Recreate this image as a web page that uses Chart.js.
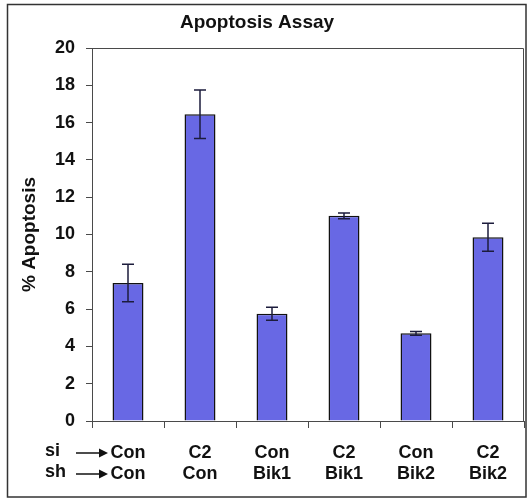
<!DOCTYPE html>
<html>
<head>
<meta charset="utf-8">
<script src="https://cdn.jsdelivr.net/npm/chart.js@4.4.1/dist/chart.umd.min.js"></script>
<style>
  html, body { margin: 0; padding: 0; background: #ffffff; }
  #wrap { width: 527px; height: 501px; }
</style>
</head>
<body>
<div id="wrap"><canvas id="c" width="527" height="501"></canvas></div>
<script>
// siRNA and shRNA treatment per group (two label rows under the axis)
const siLabels = ['Con', 'C2', 'Con', 'C2', 'Con', 'C2'];
const shLabels = ['Con', 'Con', 'Bik1', 'Bik1', 'Bik2', 'Bik2'];
// mean % apoptosis and its error
const apoptosisPct = [7.4, 16.45, 5.75, 11.0, 4.7, 9.85];
const apoptosisErr = [1.0, 1.3, 0.35, 0.15, 0.1, 0.75];
// y axis range
const yMin = 0, yMax = 20, yStep = 2;

const FONT = '"Liberation Sans", Arial, sans-serif';
const AXIS_COLOR = '#4a4a4a';

// error bars drawn over each bar
const errorBars = {
  id: 'errorBars',
  afterDatasetsDraw(chart) {
    const ctx = chart.ctx;
    const y = chart.scales.y;
    const meta = chart.getDatasetMeta(0);
    ctx.save();
    ctx.strokeStyle = '#1c1c3c';
    ctx.lineWidth = 1.5;
    meta.data.forEach((bar, i) => {
      const v = apoptosisPct[i], e = apoptosisErr[i];
      const x = bar.x;
      const yt = y.getPixelForValue(v + e);
      const yb = y.getPixelForValue(v - e);
      ctx.beginPath();
      ctx.moveTo(x, yt); ctx.lineTo(x, yb);
      ctx.moveTo(x - 6, yt); ctx.lineTo(x + 6, yt);
      ctx.moveTo(x - 6, yb); ctx.lineTo(x + 6, yb);
      ctx.stroke();
    });
    ctx.restore();
  }
};

// title, plot frame, outer frame and the si/sh row markers
const decorations = {
  id: 'decorations',
  afterDraw(chart) {
    const ctx = chart.ctx;
    const a = chart.chartArea;
    ctx.save();
    // plot area top/right border
    ctx.strokeStyle = AXIS_COLOR;
    ctx.lineWidth = 1;
    ctx.beginPath();
    ctx.moveTo(a.left, a.top + 0.5);
    ctx.lineTo(a.right - 0.5, a.top + 0.5);
    ctx.lineTo(a.right - 0.5, a.bottom);
    ctx.stroke();
    // outer frame
    ctx.strokeStyle = '#333333';
    ctx.lineWidth = 1.5;
    ctx.strokeRect(7.5, 4.5, 518.5, 492.5);
    // title
    ctx.fillStyle = '#111111';
    ctx.font = 'bold 19px ' + FONT;
    ctx.textAlign = 'center';
    ctx.textBaseline = 'middle';
    ctx.fillText('Apoptosis Assay', 257, 23);
    // row markers
    ctx.font = 'bold 18px ' + FONT;
    ctx.textAlign = 'left';
    const rows = [['si', a.bottom + 32], ['sh', a.bottom + 53]];
    rows.forEach(([txt, ry]) => {
      ctx.fillText(txt, 45, ry - 2);
      ctx.strokeStyle = '#111111';
      ctx.lineWidth = 1.5;
      ctx.beginPath();
      ctx.moveTo(76, ry); ctx.lineTo(100, ry);
      ctx.stroke();
      ctx.beginPath();
      ctx.moveTo(108, ry); ctx.lineTo(99, ry - 4.5); ctx.lineTo(99, ry + 4.5);
      ctx.closePath();
      ctx.fill();
    });
    ctx.restore();
  }
};

new Chart(document.getElementById('c'), {
  type: 'bar',
  data: {
    labels: siLabels.map((s, i) => [s, shLabels[i]]),
    datasets: [{
      data: apoptosisPct,
      backgroundColor: '#6868e4',
      borderColor: '#111111',
      borderWidth: 1.5,
      barPercentage: 0.43,
      categoryPercentage: 1.0
    }]
  },
  options: {
    responsive: false,
    animation: false,
    devicePixelRatio: 1,
    layout: { padding: { left: 8, right: 3, top: 48, bottom: 0 } },
    plugins: {
      legend: { display: false },
      title: { display: false },
      tooltip: { enabled: false }
    },
    scales: {
      x: {
        grid: { display: true, drawOnChartArea: false, offset: true, tickLength: 7, color: AXIS_COLOR },
        border: { color: AXIS_COLOR, width: 1 },
        ticks: {
          color: '#111111',
          padding: 14,
          maxRotation: 0,
          font: { family: FONT, size: 18, weight: 'bold', lineHeight: 1.2 }
        },
        afterFit(scale) { scale.height = 80; }
      },
      y: {
        min: yMin, max: yMax,
        grid: { display: true, drawOnChartArea: false, tickLength: 6, color: AXIS_COLOR },
        border: { color: AXIS_COLOR, width: 1 },
        ticks: {
          stepSize: yStep,
          color: '#111111',
          padding: 11,
          font: { family: FONT, size: 18, weight: 'bold' }
        },
        title: {
          display: true,
          text: '% Apoptosis',
          color: '#111111',
          padding: { top: 10, bottom: 0 },
          font: { family: FONT, size: 19, weight: 'bold' }
        },
        afterFit(scale) { scale.width = 84; }
      }
    }
  },
  plugins: [errorBars, decorations]
});
</script>
</body>
</html>
